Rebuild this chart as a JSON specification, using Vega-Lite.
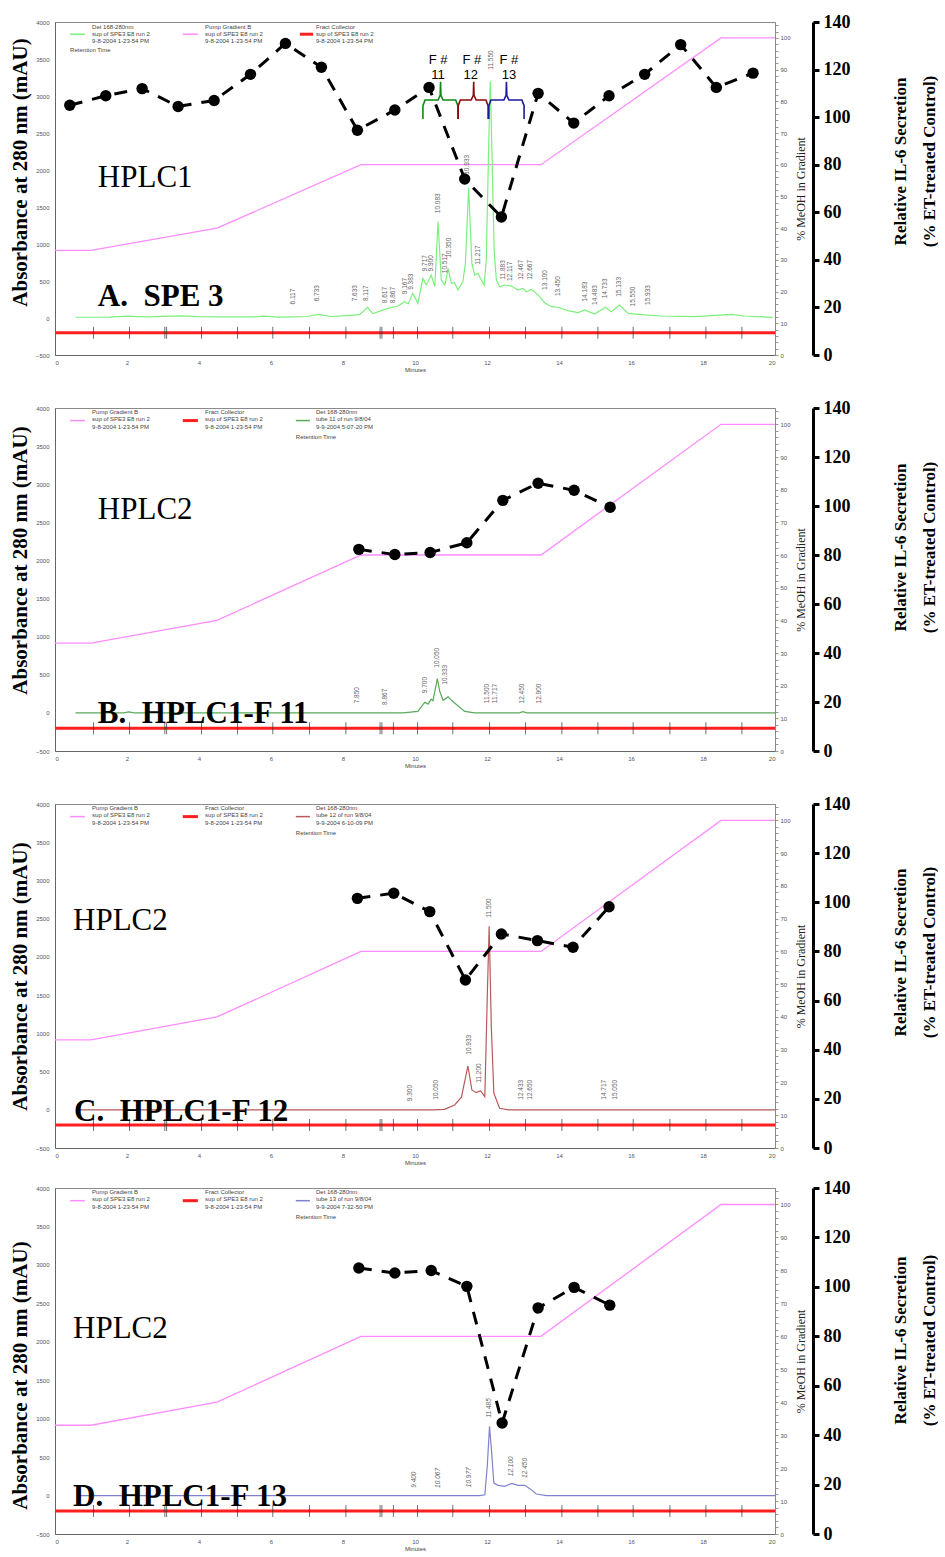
{
  "$schema": "https://vega.github.io/schema/vega-lite/v6.json",
  "background": "white",
  "padding": {"left": 8, "top": 12, "right": 0, "bottom": 0},
  "config": {
    "view": {"stroke": "#8a8a8a", "strokeWidth": 1},
    "axis": {"grid": false}
  },
  "datasets": {
    "collector": [{"t": 0, "v": -200}, {"t": 20, "v": -200}],
    "fractions": [
      {"t": 1.07, "v": -200}, {"t": 2.07, "v": -200}, {"t": 3.05, "v": -200}, {"t": 3.1, "v": -200},
      {"t": 4.07, "v": -200}, {"t": 5.07, "v": -200}, {"t": 6.05, "v": -200}, {"t": 7.07, "v": -200},
      {"t": 8.08, "v": -200}, {"t": 9.03, "v": -200}, {"t": 9.08, "v": -200}, {"t": 9.4, "v": -200},
      {"t": 10.07, "v": -200}, {"t": 11.05, "v": -200}, {"t": 12.07, "v": -200}, {"t": 13.07, "v": -200},
      {"t": 14.08, "v": -200}, {"t": 15.08, "v": -200}, {"t": 16.06, "v": -200}, {"t": 17.08, "v": -200},
      {"t": 18.08, "v": -200}, {"t": 19.08, "v": -200}
    ],
    "grad": [
      {"t": 0, "pct": 33}, {"t": 1, "pct": 33}, {"t": 4.5, "pct": 40}, {"t": 8.5, "pct": 60},
      {"t": 13.5, "pct": 60}, {"t": 18.5, "pct": 100}, {"t": 20, "pct": 100}
    ],
    "trace": [
      {"p": "A", "t": 0.57, "v": 10}, {"p": "A", "t": 1.5, "v": 12}, {"p": "A", "t": 2.0, "v": 25}, {"p": "A", "t": 2.5, "v": 15},
      {"p": "A", "t": 3.0, "v": 22}, {"p": "A", "t": 3.5, "v": 28}, {"p": "A", "t": 4.0, "v": 18}, {"p": "A", "t": 4.5, "v": 14},
      {"p": "A", "t": 5.0, "v": 15}, {"p": "A", "t": 5.5, "v": 15}, {"p": "A", "t": 5.8, "v": 25}, {"p": "A", "t": 6.2, "v": 12},
      {"p": "A", "t": 6.6, "v": 15}, {"p": "A", "t": 7.0, "v": 20}, {"p": "A", "t": 7.31, "v": 50}, {"p": "A", "t": 7.67, "v": 20},
      {"p": "A", "t": 8.2, "v": 35}, {"p": "A", "t": 8.46, "v": 45}, {"p": "A", "t": 8.68, "v": 145}, {"p": "A", "t": 8.83, "v": 60},
      {"p": "A", "t": 9.16, "v": 117}, {"p": "A", "t": 9.25, "v": 130}, {"p": "A", "t": 9.53, "v": 162}, {"p": "A", "t": 9.71, "v": 220},
      {"p": "A", "t": 9.81, "v": 190}, {"p": "A", "t": 9.94, "v": 333}, {"p": "A", "t": 10.08, "v": 198}, {"p": "A", "t": 10.22, "v": 536},
      {"p": "A", "t": 10.31, "v": 446}, {"p": "A", "t": 10.45, "v": 581}, {"p": "A", "t": 10.55, "v": 423}, {"p": "A", "t": 10.64, "v": 1301},
      {"p": "A", "t": 10.73, "v": 514}, {"p": "A", "t": 10.83, "v": 446}, {"p": "A", "t": 10.92, "v": 672}, {"p": "A", "t": 11.01, "v": 469},
      {"p": "A", "t": 11.1, "v": 477}, {"p": "A", "t": 11.19, "v": 378}, {"p": "A", "t": 11.33, "v": 491}, {"p": "A", "t": 11.4, "v": 739},
      {"p": "A", "t": 11.49, "v": 1760}, {"p": "A", "t": 11.58, "v": 739}, {"p": "A", "t": 11.66, "v": 581}, {"p": "A", "t": 11.75, "v": 604},
      {"p": "A", "t": 11.84, "v": 514}, {"p": "A", "t": 11.92, "v": 446}, {"p": "A", "t": 11.98, "v": 784}, {"p": "A", "t": 12.05, "v": 2400},
      {"p": "A", "t": 12.09, "v": 3200}, {"p": "A", "t": 12.14, "v": 2200}, {"p": "A", "t": 12.2, "v": 900}, {"p": "A", "t": 12.26, "v": 514},
      {"p": "A", "t": 12.35, "v": 423}, {"p": "A", "t": 12.49, "v": 446}, {"p": "A", "t": 12.68, "v": 432}, {"p": "A", "t": 12.86, "v": 378},
      {"p": "A", "t": 13.0, "v": 401}, {"p": "A", "t": 13.09, "v": 355}, {"p": "A", "t": 13.23, "v": 387}, {"p": "A", "t": 13.42, "v": 311},
      {"p": "A", "t": 13.6, "v": 207}, {"p": "A", "t": 13.79, "v": 153}, {"p": "A", "t": 13.97, "v": 145}, {"p": "A", "t": 14.25, "v": 99},
      {"p": "A", "t": 14.53, "v": 72}, {"p": "A", "t": 14.71, "v": 108}, {"p": "A", "t": 14.99, "v": 54}, {"p": "A", "t": 15.29, "v": 145},
      {"p": "A", "t": 15.45, "v": 86}, {"p": "A", "t": 15.68, "v": 176}, {"p": "A", "t": 15.92, "v": 63}, {"p": "A", "t": 16.38, "v": 41},
      {"p": "A", "t": 16.84, "v": 27}, {"p": "A", "t": 17.77, "v": 18}, {"p": "A", "t": 18.79, "v": 50}, {"p": "A", "t": 19.16, "v": 27},
      {"p": "A", "t": 19.94, "v": 9},

      {"p": "B", "t": 0.57, "v": 0}, {"p": "B", "t": 1.9, "v": 0}, {"p": "B", "t": 2.05, "v": 12}, {"p": "B", "t": 2.2, "v": 0},
      {"p": "B", "t": 9.67, "v": 0}, {"p": "B", "t": 10.08, "v": 20}, {"p": "B", "t": 10.27, "v": 140}, {"p": "B", "t": 10.36, "v": 115},
      {"p": "B", "t": 10.45, "v": 180}, {"p": "B", "t": 10.5, "v": 160}, {"p": "B", "t": 10.62, "v": 450}, {"p": "B", "t": 10.69, "v": 277},
      {"p": "B", "t": 10.78, "v": 165}, {"p": "B", "t": 10.92, "v": 210}, {"p": "B", "t": 11.01, "v": 165}, {"p": "B", "t": 11.38, "v": 20},
      {"p": "B", "t": 11.66, "v": 0}, {"p": "B", "t": 12.9, "v": 0}, {"p": "B", "t": 13.0, "v": 15}, {"p": "B", "t": 13.1, "v": 0},
      {"p": "B", "t": 20, "v": 0},

      {"p": "C", "t": 0.6, "v": 0}, {"p": "C", "t": 10.5, "v": 0}, {"p": "C", "t": 10.82, "v": 5}, {"p": "C", "t": 11.1, "v": 63},
      {"p": "C", "t": 11.29, "v": 164}, {"p": "C", "t": 11.47, "v": 573}, {"p": "C", "t": 11.58, "v": 259}, {"p": "C", "t": 11.7, "v": 224},
      {"p": "C", "t": 11.82, "v": 250}, {"p": "C", "t": 11.94, "v": 171}, {"p": "C", "t": 12.01, "v": 1523}, {"p": "C", "t": 12.06, "v": 2400},
      {"p": "C", "t": 12.12, "v": 1087}, {"p": "C", "t": 12.19, "v": 217}, {"p": "C", "t": 12.35, "v": 20}, {"p": "C", "t": 12.6, "v": 0},
      {"p": "C", "t": 20, "v": 0},

      {"p": "D", "t": 0.6, "v": 0}, {"p": "D", "t": 11.8, "v": 0}, {"p": "D", "t": 11.94, "v": 10}, {"p": "D", "t": 12.01, "v": 400},
      {"p": "D", "t": 12.07, "v": 900}, {"p": "D", "t": 12.12, "v": 617}, {"p": "D", "t": 12.19, "v": 162}, {"p": "D", "t": 12.31, "v": 133},
      {"p": "D", "t": 12.49, "v": 120}, {"p": "D", "t": 12.69, "v": 159}, {"p": "D", "t": 12.86, "v": 133}, {"p": "D", "t": 13.05, "v": 133},
      {"p": "D", "t": 13.19, "v": 90}, {"p": "D", "t": 13.37, "v": 20}, {"p": "D", "t": 13.65, "v": 0}, {"p": "D", "t": 20, "v": 0}
    ],
    "peaks": [
      {"p": "A", "t": 6.61, "v": 290, "s": "6.117"}, {"p": "A", "t": 7.28, "v": 335, "s": "6.733"},
      {"p": "A", "t": 8.34, "v": 335, "s": "7.633"}, {"p": "A", "t": 8.65, "v": 335, "s": "8.117"},
      {"p": "A", "t": 9.16, "v": 310, "s": "8.617"}, {"p": "A", "t": 9.39, "v": 310, "s": "8.867"},
      {"p": "A", "t": 9.71, "v": 432, "s": "9.167"}, {"p": "A", "t": 9.9, "v": 491, "s": "9.383"},
      {"p": "A", "t": 10.27, "v": 740, "s": "9.717"}, {"p": "A", "t": 10.45, "v": 740, "s": "9.900"},
      {"p": "A", "t": 10.64, "v": 1550, "s": "10.083"}, {"p": "A", "t": 10.94, "v": 950, "s": "10.350"},
      {"p": "A", "t": 10.84, "v": 740, "s": "10.517"}, {"p": "A", "t": 11.45, "v": 2070, "s": "10.933"},
      {"p": "A", "t": 11.75, "v": 850, "s": "11.217"}, {"p": "A", "t": 12.12, "v": 3486, "s": "11.550"},
      {"p": "A", "t": 12.44, "v": 650, "s": "11.883"}, {"p": "A", "t": 12.63, "v": 630, "s": "12.117"},
      {"p": "A", "t": 12.95, "v": 650, "s": "12.467"}, {"p": "A", "t": 13.19, "v": 650, "s": "12.667"},
      {"p": "A", "t": 13.6, "v": 514, "s": "13.100"}, {"p": "A", "t": 13.97, "v": 430, "s": "13.450"},
      {"p": "A", "t": 14.71, "v": 357, "s": "14.183"}, {"p": "A", "t": 14.99, "v": 311, "s": "14.483"},
      {"p": "A", "t": 15.27, "v": 400, "s": "14.733"}, {"p": "A", "t": 15.66, "v": 420, "s": "15.133"},
      {"p": "A", "t": 16.06, "v": 290, "s": "15.550"}, {"p": "A", "t": 16.47, "v": 311, "s": "15.933"},

      {"p": "B", "t": 8.4, "v": 232, "s": "7.850"}, {"p": "B", "t": 9.16, "v": 210, "s": "8.867"},
      {"p": "B", "t": 10.27, "v": 365, "s": "9.700"}, {"p": "B", "t": 10.62, "v": 723, "s": "10.050"},
      {"p": "B", "t": 10.82, "v": 500, "s": "10.333"}, {"p": "B", "t": 12.01, "v": 254, "s": "11.500"},
      {"p": "B", "t": 12.21, "v": 254, "s": "11.717"}, {"p": "B", "t": 12.97, "v": 254, "s": "12.450"},
      {"p": "B", "t": 13.44, "v": 254, "s": "12.900"},

      {"p": "C", "t": 9.85, "v": 218, "s": "9.300"}, {"p": "C", "t": 10.59, "v": 262, "s": "10.050"},
      {"p": "C", "t": 11.49, "v": 850, "s": "10.933"}, {"p": "C", "t": 11.77, "v": 480, "s": "11.200"},
      {"p": "C", "t": 12.05, "v": 2640, "s": "11.500"}, {"p": "C", "t": 12.95, "v": 262, "s": "12.433"},
      {"p": "C", "t": 13.19, "v": 262, "s": "12.650"}, {"p": "C", "t": 15.25, "v": 262, "s": "14.717"},
      {"p": "C", "t": 15.56, "v": 262, "s": "15.050"},

      {"p": "D", "t": 9.97, "v": 207, "s": "9.400"}, {"p": "D", "t": 10.64, "v": 229, "s": "10.067"},
      {"p": "D", "t": 11.49, "v": 238, "s": "10.977"}, {"p": "D", "t": 12.06, "v": 1140, "s": "11.485"},
      {"p": "D", "t": 12.68, "v": 381, "s": "12.100"}, {"p": "D", "t": 13.05, "v": 359, "s": "12.450"}
    ],
    "legend": [
      {"p": "A", "t": 1.03, "v": 3975, "s": "Det 168-280nm\nsup of SPE3 E8 run 2\n9-8-2004 1-23-54 PM"},
      {"p": "A", "t": 4.17, "v": 3975, "s": "Pump Gradient B\nsup of SPE3 E8 run 2\n9-8-2004 1-23-54 PM"},
      {"p": "A", "t": 7.25, "v": 3975, "s": "Fract Collector\nsup of SPE3 E8 run 2\n9-8-2004 1-23-54 PM"},
      {"p": "A", "t": 0.42, "v": 3665, "s": "Retention Time"},
      {"p": "B", "t": 1.03, "v": 3985, "s": "Pump Gradient B\nsup of SPE3 E8 run 2\n9-8-2004 1-23-54 PM"},
      {"p": "B", "t": 4.17, "v": 3985, "s": "Fract Collector\nsup of SPE3 E8 run 2\n9-8-2004 1-23-54 PM"},
      {"p": "B", "t": 7.25, "v": 3985, "s": "Det 168-280nm\ntube 11 of run 9/8/04\n9-9-2004 5-07-20 PM"},
      {"p": "B", "t": 6.69, "v": 3665, "s": "Retention Time"},
      {"p": "C", "t": 1.03, "v": 3985, "s": "Pump Gradient B\nsup of SPE3 E8 run 2\n9-8-2004 1-23-54 PM"},
      {"p": "C", "t": 4.17, "v": 3985, "s": "Fract Collector\nsup of SPE3 E8 run 2\n9-8-2004 1-23-54 PM"},
      {"p": "C", "t": 7.25, "v": 3985, "s": "Det 168-280nm\ntube 12 of run 9/8/04\n9-9-2004 6-10-09 PM"},
      {"p": "C", "t": 6.69, "v": 3665, "s": "Retention Time"},
      {"p": "D", "t": 1.03, "v": 3985, "s": "Pump Gradient B\nsup of SPE3 E8 run 2\n9-8-2004 1-23-54 PM"},
      {"p": "D", "t": 4.17, "v": 3985, "s": "Fract Collector\nsup of SPE3 E8 run 2\n9-8-2004 1-23-54 PM"},
      {"p": "D", "t": 7.25, "v": 3985, "s": "Det 168-280nm\ntube 13 of run 9/8/04\n9-9-2004 7-32-50 PM"},
      {"p": "D", "t": 6.69, "v": 3665, "s": "Retention Time"}
    ],
    "swatch": [
      {"p": "A", "t": 0.42, "t2": 0.83, "v": 3835, "c": "#7cf07c", "w": 1.5},
      {"p": "A", "t": 3.55, "t2": 3.97, "v": 3835, "c": "#ff8cff", "w": 1.5},
      {"p": "A", "t": 6.8, "t2": 7.17, "v": 3835, "c": "#ff1f1f", "w": 3},
      {"p": "B", "t": 0.42, "t2": 0.83, "v": 3835, "c": "#ff8cff", "w": 1.5},
      {"p": "B", "t": 3.55, "t2": 3.97, "v": 3835, "c": "#ff1f1f", "w": 3},
      {"p": "B", "t": 6.69, "t2": 7.08, "v": 3835, "c": "#5aaa5a", "w": 1.5},
      {"p": "C", "t": 0.42, "t2": 0.83, "v": 3835, "c": "#ff8cff", "w": 1.5},
      {"p": "C", "t": 3.55, "t2": 3.97, "v": 3835, "c": "#ff1f1f", "w": 3},
      {"p": "C", "t": 6.69, "t2": 7.08, "v": 3835, "c": "#b85a5a", "w": 1.5},
      {"p": "D", "t": 0.42, "t2": 0.83, "v": 3835, "c": "#ff8cff", "w": 1.5},
      {"p": "D", "t": 3.55, "t2": 3.97, "v": 3835, "c": "#ff1f1f", "w": 3},
      {"p": "D", "t": 6.69, "t2": 7.08, "v": 3835, "c": "#8080d0", "w": 1.5}
    ],
    "names": [
      {"p": "A", "t": 1.19, "v": 1774, "s": "HPLC1", "b": 0},
      {"p": "A", "t": 1.19, "v": 162, "s": "A.\u00a0 SPE 3", "b": 1},
      {"p": "B", "t": 1.19, "v": 2543, "s": "HPLC2", "b": 0},
      {"p": "B", "t": 1.19, "v": -134, "s": "B.\u00a0 HPLC1-F 11", "b": 1},
      {"p": "C", "t": 0.5, "v": 2356, "s": "HPLC2", "b": 0},
      {"p": "C", "t": 0.53, "v": -153, "s": "C.\u00a0 HPLC1-F 12", "b": 1},
      {"p": "D", "t": 0.5, "v": 2049, "s": "HPLC2", "b": 0},
      {"p": "D", "t": 0.5, "v": -135, "s": "D.\u00a0 HPLC1-F 13", "b": 1}
    ],
    "brace": [
      {"i": 0, "t": 10.22, "v": 2689, "c": "#118811"}, {"i": 1, "t": 10.22, "v": 2870, "c": "#118811"},
      {"i": 2, "t": 10.28, "v": 2946, "c": "#118811"}, {"i": 3, "t": 10.64, "v": 2946, "c": "#118811"},
      {"i": 4, "t": 10.7, "v": 3010, "c": "#118811"}, {"i": 5, "t": 10.71, "v": 3193, "c": "#118811"},
      {"i": 6, "t": 10.72, "v": 3010, "c": "#118811"}, {"i": 7, "t": 10.78, "v": 2946, "c": "#118811"},
      {"i": 8, "t": 11.13, "v": 2946, "c": "#118811"}, {"i": 9, "t": 11.19, "v": 2870, "c": "#118811"},
      {"i": 10, "t": 11.19, "v": 2689, "c": "#118811"},
      {"i": 0, "t": 11.2, "v": 2689, "c": "#8b0a0a"}, {"i": 1, "t": 11.2, "v": 2870, "c": "#8b0a0a"},
      {"i": 2, "t": 11.26, "v": 2946, "c": "#8b0a0a"}, {"i": 3, "t": 11.56, "v": 2946, "c": "#8b0a0a"},
      {"i": 4, "t": 11.62, "v": 3010, "c": "#8b0a0a"}, {"i": 5, "t": 11.63, "v": 3193, "c": "#8b0a0a"},
      {"i": 6, "t": 11.64, "v": 3010, "c": "#8b0a0a"}, {"i": 7, "t": 11.7, "v": 2946, "c": "#8b0a0a"},
      {"i": 8, "t": 11.97, "v": 2946, "c": "#8b0a0a"}, {"i": 9, "t": 12.03, "v": 2870, "c": "#8b0a0a"},
      {"i": 10, "t": 12.03, "v": 2689, "c": "#8b0a0a"},
      {"i": 0, "t": 12.05, "v": 2689, "c": "#1a1aa0"}, {"i": 1, "t": 12.05, "v": 2870, "c": "#1a1aa0"},
      {"i": 2, "t": 12.11, "v": 2946, "c": "#1a1aa0"}, {"i": 3, "t": 12.47, "v": 2946, "c": "#1a1aa0"},
      {"i": 4, "t": 12.53, "v": 3010, "c": "#1a1aa0"}, {"i": 5, "t": 12.54, "v": 3193, "c": "#1a1aa0"},
      {"i": 6, "t": 12.55, "v": 3010, "c": "#1a1aa0"}, {"i": 7, "t": 12.61, "v": 2946, "c": "#1a1aa0"},
      {"i": 8, "t": 12.97, "v": 2946, "c": "#1a1aa0"}, {"i": 9, "t": 13.03, "v": 2870, "c": "#1a1aa0"},
      {"i": 10, "t": 13.03, "v": 2689, "c": "#1a1aa0"}
    ],
    "fnum": [
      {"t": 10.64, "v": 3486, "s": "F #"}, {"t": 10.64, "v": 3284, "s": "11"},
      {"t": 11.58, "v": 3486, "s": "F #"}, {"t": 11.55, "v": 3284, "s": "12"},
      {"t": 12.61, "v": 3486, "s": "F #"}, {"t": 12.61, "v": 3284, "s": "13"}
    ],
    "il6": [
      {"p": "A", "t": 0.41, "r": 105}, {"p": "A", "t": 1.41, "r": 109}, {"p": "A", "t": 2.42, "r": 112},
      {"p": "A", "t": 3.42, "r": 104.5}, {"p": "A", "t": 4.42, "r": 107}, {"p": "A", "t": 5.43, "r": 118},
      {"p": "A", "t": 6.4, "r": 131}, {"p": "A", "t": 7.4, "r": 121}, {"p": "A", "t": 8.4, "r": 94.5},
      {"p": "A", "t": 9.44, "r": 103}, {"p": "A", "t": 10.39, "r": 112.5}, {"p": "A", "t": 11.38, "r": 74},
      {"p": "A", "t": 12.4, "r": 58}, {"p": "A", "t": 13.42, "r": 110}, {"p": "A", "t": 14.41, "r": 97.5},
      {"p": "A", "t": 15.39, "r": 109}, {"p": "A", "t": 16.38, "r": 118}, {"p": "A", "t": 17.38, "r": 130.5},
      {"p": "A", "t": 18.37, "r": 112.5}, {"p": "A", "t": 19.39, "r": 118.5},
      {"p": "B", "t": 8.44, "r": 82.3}, {"p": "B", "t": 9.44, "r": 80.2}, {"p": "B", "t": 10.42, "r": 81},
      {"p": "B", "t": 11.44, "r": 85}, {"p": "B", "t": 12.44, "r": 102.3}, {"p": "B", "t": 13.42, "r": 109.3},
      {"p": "B", "t": 14.42, "r": 106.4}, {"p": "B", "t": 15.42, "r": 99.5},
      {"p": "C", "t": 8.4, "r": 101.6}, {"p": "C", "t": 9.41, "r": 103.7}, {"p": "C", "t": 10.41, "r": 96.2},
      {"p": "C", "t": 11.4, "r": 68.4}, {"p": "C", "t": 12.4, "r": 87.1}, {"p": "C", "t": 13.4, "r": 84.4},
      {"p": "C", "t": 14.39, "r": 81.7}, {"p": "C", "t": 15.39, "r": 98.2},
      {"p": "D", "t": 8.44, "r": 107.6}, {"p": "D", "t": 9.44, "r": 105.6}, {"p": "D", "t": 10.45, "r": 106.6},
      {"p": "D", "t": 11.44, "r": 100.2}, {"p": "D", "t": 12.42, "r": 44.9}, {"p": "D", "t": 13.42, "r": 91.5},
      {"p": "D", "t": 14.42, "r": 99.8}, {"p": "D", "t": 15.41, "r": 92.6}
    ]
  },
  "spacing": 12,
  "vconcat": [
    {
      "spacing": 25,
      "vconcat": [
        {
          "width": 720, "height": 333,
          "resolve": {"scale": {"x": "independent", "y": "independent"}, "axis": {"x": "independent", "y": "independent"}},
          "layer": [
            {
              "data": {"name": "collector"},
              "mark": {"type": "line", "color": "#ff1f1f", "strokeWidth": 3},
              "encoding": {
                "x": {"field": "t", "type": "quantitative", "scale": {"domain": [0, 20], "nice": false},
                  "axis": {"values": [0, 2, 4, 6, 8, 10, 12, 14, 16, 18, 20], "title": "Minutes", "titleFont": "Liberation Sans", "titleFontSize": 6, "titleFontWeight": "normal", "titleColor": "#444", "titlePadding": 1, "labelFont": "Liberation Sans", "labelFontSize": 6, "labelColor": "#555", "ticks": false, "labelPadding": 4, "domainColor": "#666"}},
                "y": {"field": "v", "type": "quantitative", "scale": {"domain": [-500, 4000], "nice": false},
                  "axis": {"orient": "left", "format": "d", "values": [-500, 0, 500, 1000, 1500, 2000, 2500, 3000, 3500, 4000], "title": "Absorbance at 280 nm (mAU)", "titleFont": "Liberation Serif", "titleFontSize": 21, "titleFontWeight": "bold", "titleColor": "black", "titlePadding": 5, "titleY": 150, "labelFont": "Liberation Sans", "labelFontSize": 6, "labelColor": "#555", "ticks": false, "labelPadding": 6, "domainColor": "#666"}}
              }
            },
            {
              "data": {"name": "fractions"},
              "mark": {"type": "tick", "orient": "vertical", "size": 12, "thickness": 1, "color": "#333"},
              "encoding": {
                "x": {"field": "t", "type": "quantitative", "scale": {"domain": [0, 20], "nice": false}, "axis": null},
                "y": {"field": "v", "type": "quantitative", "scale": {"domain": [-500, 4000], "nice": false}, "axis": null}
              }
            },
            {
              "data": {"name": "grad"},
              "mark": {"type": "line", "color": "#ff8cff", "strokeWidth": 1.3},
              "encoding": {
                "x": {"field": "t", "type": "quantitative", "scale": {"domain": [0, 20], "nice": false}, "axis": null},
                "y": {"field": "pct", "type": "quantitative", "scale": {"domain": [0, 105], "nice": false},
                  "axis": {"orient": "right", "values": [0, 2, 4, 6, 8, 10, 12, 14, 16, 18, 20, 22, 24, 26, 28, 30, 32, 34, 36, 38, 40, 42, 44, 46, 48, 50, 52, 54, 56, 58, 60, 62, 64, 66, 68, 70, 72, 74, 76, 78, 80, 82, 84, 86, 88, 90, 92, 94, 96, 98, 100, 102, 104], "labelExpr": "datum.value % 10 === 0 ? datum.label : ''", "labelOverlap": false, "title": "% MeOH in Gradient", "titleFont": "Liberation Serif", "titleFontSize": 12, "titleFontWeight": "normal", "titleColor": "#222", "titleAngle": 270, "titleBaseline": "top", "titlePadding": 5, "labelFont": "Liberation Sans", "labelFontSize": 6, "labelColor": "#555", "tickSize": 3, "tickColor": "#999", "domainColor": "#888", "labelPadding": 2}}
              }
            },
            {
              "data": {"name": "trace"},
              "transform": [{"filter": "datum.p === 'A'"}],
              "mark": {"type": "line", "color": "#7cf07c", "strokeWidth": 1.2},
              "encoding": {
                "x": {"field": "t", "type": "quantitative", "scale": {"domain": [0, 20], "nice": false}, "axis": null},
                "y": {"field": "v", "type": "quantitative", "scale": {"domain": [-500, 4000], "nice": false}, "axis": null}
              }
            },
            {
              "data": {"name": "peaks"},
              "transform": [{"filter": "datum.p === 'A'"}],
              "mark": {"type": "text", "angle": 270, "fontSize": 6.5, "font": "Liberation Sans", "color": "#666"},
              "encoding": {
                "x": {"field": "t", "type": "quantitative", "scale": {"domain": [0, 20], "nice": false}, "axis": null},
                "y": {"field": "v", "type": "quantitative", "scale": {"domain": [-500, 4000], "nice": false}, "axis": null},
                "text": {"field": "s"}
              }
            },
            {
              "data": {"name": "legend"},
              "transform": [{"filter": "datum.p === 'A'"}],
              "mark": {"type": "text", "align": "left", "baseline": "top", "fontSize": 6, "font": "Liberation Sans", "color": "#444", "lineBreak": "\n", "lineHeight": 7.3},
              "encoding": {
                "x": {"field": "t", "type": "quantitative", "scale": {"domain": [0, 20], "nice": false}, "axis": null},
                "y": {"field": "v", "type": "quantitative", "scale": {"domain": [-500, 4000], "nice": false}, "axis": null},
                "text": {"field": "s"}
              }
            },
            {
              "data": {"name": "swatch"},
              "transform": [{"filter": "datum.p === 'A'"}],
              "mark": {"type": "rule"},
              "encoding": {
                "x": {"field": "t", "type": "quantitative", "scale": {"domain": [0, 20], "nice": false}, "axis": null},
                "x2": {"field": "t2"},
                "y": {"field": "v", "type": "quantitative", "scale": {"domain": [-500, 4000], "nice": false}, "axis": null},
                "color": {"field": "c", "type": "nominal", "scale": null},
                "strokeWidth": {"field": "w", "type": "quantitative", "scale": null}
              }
            },
            {
              "data": {"name": "names"},
              "transform": [{"filter": "datum.p === 'A' && datum.b === 0"}],
              "mark": {"type": "text", "align": "left", "baseline": "alphabetic", "font": "Liberation Serif", "fontSize": 31, "color": "black"},
              "encoding": {
                "x": {"field": "t", "type": "quantitative", "scale": {"domain": [0, 20], "nice": false}, "axis": null},
                "y": {"field": "v", "type": "quantitative", "scale": {"domain": [-500, 4000], "nice": false}, "axis": null},
                "text": {"field": "s"}
              }
            },
            {
              "data": {"name": "names"},
              "transform": [{"filter": "datum.p === 'A' && datum.b === 1"}],
              "mark": {"type": "text", "align": "left", "baseline": "alphabetic", "font": "Liberation Serif", "fontSize": 31, "fontWeight": "bold", "color": "black"},
              "encoding": {
                "x": {"field": "t", "type": "quantitative", "scale": {"domain": [0, 20], "nice": false}, "axis": null},
                "y": {"field": "v", "type": "quantitative", "scale": {"domain": [-500, 4000], "nice": false}, "axis": null},
                "text": {"field": "s"}
              }
            },
            {
              "data": {"name": "brace"},
              "mark": {"type": "line", "strokeWidth": 1.6},
              "encoding": {
                "x": {"field": "t", "type": "quantitative", "scale": {"domain": [0, 20], "nice": false}, "axis": null},
                "y": {"field": "v", "type": "quantitative", "scale": {"domain": [-500, 4000], "nice": false}, "axis": null},
                "color": {"field": "c", "type": "nominal", "scale": null},
                "order": {"field": "i", "type": "quantitative"}
              }
            },
            {
              "data": {"name": "fnum"},
              "mark": {"type": "text", "fontSize": 13, "font": "Liberation Sans", "color": "black"},
              "encoding": {
                "x": {"field": "t", "type": "quantitative", "scale": {"domain": [0, 20], "nice": false}, "axis": null},
                "y": {"field": "v", "type": "quantitative", "scale": {"domain": [-500, 4000], "nice": false}, "axis": null},
                "text": {"field": "s"}
              }
            },
            {
              "data": {"name": "il6"},
              "transform": [{"filter": "datum.p === 'A'"}],
              "mark": {"type": "line", "color": "black", "strokeWidth": 3, "strokeDash": [13, 10], "point": {"filled": true, "size": 130, "color": "black", "opacity": 1}},
              "encoding": {
                "x": {"field": "t", "type": "quantitative", "scale": {"domain": [0, 20], "nice": false}, "axis": null},
                "y": {"field": "r", "type": "quantitative", "scale": {"domain": [0, 140], "nice": false},
                  "axis": {"orient": "right", "offset": 38, "values": [0, 20, 40, 60, 80, 100, 120, 140], "title": ["Relative IL-6 Secretion", "(% ET-treated Control)"], "titleFont": "Liberation Serif", "titleFontSize": 17, "titleFontWeight": "bold", "titleColor": "black", "titleAngle": 270, "titleBaseline": "top", "titleLineHeight": 29, "titlePadding": 13, "titleY": 139, "labelFont": "Liberation Serif", "labelFontSize": 18, "labelFontWeight": "bold", "labelColor": "black", "tickColor": "black", "tickWidth": 3, "tickSize": 6, "domainColor": "black", "domainWidth": 3, "labelPadding": 4}}
              }
            }
          ]
        },
        {
          "width": 720, "height": 343,
          "resolve": {"scale": {"x": "independent", "y": "independent"}, "axis": {"x": "independent", "y": "independent"}},
          "layer": [
            {
              "data": {"name": "collector"},
              "mark": {"type": "line", "color": "#ff1f1f", "strokeWidth": 3},
              "encoding": {
                "x": {"field": "t", "type": "quantitative", "scale": {"domain": [0, 20], "nice": false},
                  "axis": {"values": [0, 2, 4, 6, 8, 10, 12, 14, 16, 18, 20], "title": "Minutes", "titleFont": "Liberation Sans", "titleFontSize": 6, "titleFontWeight": "normal", "titleColor": "#444", "titlePadding": 1, "labelFont": "Liberation Sans", "labelFontSize": 6, "labelColor": "#555", "ticks": false, "labelPadding": 4, "domainColor": "#666"}},
                "y": {"field": "v", "type": "quantitative", "scale": {"domain": [-500, 4000], "nice": false},
                  "axis": {"orient": "left", "format": "d", "values": [-500, 0, 500, 1000, 1500, 2000, 2500, 3000, 3500, 4000], "title": "Absorbance at 280 nm (mAU)", "titleFont": "Liberation Serif", "titleFontSize": 21, "titleFontWeight": "bold", "titleColor": "black", "titlePadding": 5, "titleY": 152, "labelFont": "Liberation Sans", "labelFontSize": 6, "labelColor": "#555", "ticks": false, "labelPadding": 6, "domainColor": "#666"}}
              }
            },
            {
              "data": {"name": "fractions"},
              "mark": {"type": "tick", "orient": "vertical", "size": 12, "thickness": 1, "color": "#333"},
              "encoding": {
                "x": {"field": "t", "type": "quantitative", "scale": {"domain": [0, 20], "nice": false}, "axis": null},
                "y": {"field": "v", "type": "quantitative", "scale": {"domain": [-500, 4000], "nice": false}, "axis": null}
              }
            },
            {
              "data": {"name": "grad"},
              "mark": {"type": "line", "color": "#ff8cff", "strokeWidth": 1.3},
              "encoding": {
                "x": {"field": "t", "type": "quantitative", "scale": {"domain": [0, 20], "nice": false}, "axis": null},
                "y": {"field": "pct", "type": "quantitative", "scale": {"domain": [0, 105], "nice": false},
                  "axis": {"orient": "right", "values": [0, 2, 4, 6, 8, 10, 12, 14, 16, 18, 20, 22, 24, 26, 28, 30, 32, 34, 36, 38, 40, 42, 44, 46, 48, 50, 52, 54, 56, 58, 60, 62, 64, 66, 68, 70, 72, 74, 76, 78, 80, 82, 84, 86, 88, 90, 92, 94, 96, 98, 100, 102, 104], "labelExpr": "datum.value % 10 === 0 ? datum.label : ''", "labelOverlap": false, "title": "% MeOH in Gradient", "titleFont": "Liberation Serif", "titleFontSize": 12, "titleFontWeight": "normal", "titleColor": "#222", "titleAngle": 270, "titleBaseline": "top", "titlePadding": 5, "labelFont": "Liberation Sans", "labelFontSize": 6, "labelColor": "#555", "tickSize": 3, "tickColor": "#999", "domainColor": "#888", "labelPadding": 2}}
              }
            },
            {
              "data": {"name": "trace"},
              "transform": [{"filter": "datum.p === 'B'"}],
              "mark": {"type": "line", "color": "#5aaa5a", "strokeWidth": 1.2},
              "encoding": {
                "x": {"field": "t", "type": "quantitative", "scale": {"domain": [0, 20], "nice": false}, "axis": null},
                "y": {"field": "v", "type": "quantitative", "scale": {"domain": [-500, 4000], "nice": false}, "axis": null}
              }
            },
            {
              "data": {"name": "peaks"},
              "transform": [{"filter": "datum.p === 'B'"}],
              "mark": {"type": "text", "angle": 270, "fontSize": 6.5, "font": "Liberation Sans", "color": "#666"},
              "encoding": {
                "x": {"field": "t", "type": "quantitative", "scale": {"domain": [0, 20], "nice": false}, "axis": null},
                "y": {"field": "v", "type": "quantitative", "scale": {"domain": [-500, 4000], "nice": false}, "axis": null},
                "text": {"field": "s"}
              }
            },
            {
              "data": {"name": "legend"},
              "transform": [{"filter": "datum.p === 'B'"}],
              "mark": {"type": "text", "align": "left", "baseline": "top", "fontSize": 6, "font": "Liberation Sans", "color": "#444", "lineBreak": "\n", "lineHeight": 7.3},
              "encoding": {
                "x": {"field": "t", "type": "quantitative", "scale": {"domain": [0, 20], "nice": false}, "axis": null},
                "y": {"field": "v", "type": "quantitative", "scale": {"domain": [-500, 4000], "nice": false}, "axis": null},
                "text": {"field": "s"}
              }
            },
            {
              "data": {"name": "swatch"},
              "transform": [{"filter": "datum.p === 'B'"}],
              "mark": {"type": "rule"},
              "encoding": {
                "x": {"field": "t", "type": "quantitative", "scale": {"domain": [0, 20], "nice": false}, "axis": null},
                "x2": {"field": "t2"},
                "y": {"field": "v", "type": "quantitative", "scale": {"domain": [-500, 4000], "nice": false}, "axis": null},
                "color": {"field": "c", "type": "nominal", "scale": null},
                "strokeWidth": {"field": "w", "type": "quantitative", "scale": null}
              }
            },
            {
              "data": {"name": "names"},
              "transform": [{"filter": "datum.p === 'B' && datum.b === 0"}],
              "mark": {"type": "text", "align": "left", "baseline": "alphabetic", "font": "Liberation Serif", "fontSize": 31, "color": "black"},
              "encoding": {
                "x": {"field": "t", "type": "quantitative", "scale": {"domain": [0, 20], "nice": false}, "axis": null},
                "y": {"field": "v", "type": "quantitative", "scale": {"domain": [-500, 4000], "nice": false}, "axis": null},
                "text": {"field": "s"}
              }
            },
            {
              "data": {"name": "names"},
              "transform": [{"filter": "datum.p === 'B' && datum.b === 1"}],
              "mark": {"type": "text", "align": "left", "baseline": "alphabetic", "font": "Liberation Serif", "fontSize": 31, "fontWeight": "bold", "color": "black"},
              "encoding": {
                "x": {"field": "t", "type": "quantitative", "scale": {"domain": [0, 20], "nice": false}, "axis": null},
                "y": {"field": "v", "type": "quantitative", "scale": {"domain": [-500, 4000], "nice": false}, "axis": null},
                "text": {"field": "s"}
              }
            },
            {
              "data": {"name": "il6"},
              "transform": [{"filter": "datum.p === 'B'"}],
              "mark": {"type": "line", "color": "black", "strokeWidth": 3, "strokeDash": [13, 10], "point": {"filled": true, "size": 130, "color": "black", "opacity": 1}},
              "encoding": {
                "x": {"field": "t", "type": "quantitative", "scale": {"domain": [0, 20], "nice": false}, "axis": null},
                "y": {"field": "r", "type": "quantitative", "scale": {"domain": [0, 140], "nice": false},
                  "axis": {"orient": "right", "offset": 38, "values": [0, 20, 40, 60, 80, 100, 120, 140], "title": ["Relative IL-6 Secretion", "(% ET-treated Control)"], "titleFont": "Liberation Serif", "titleFontSize": 17, "titleFontWeight": "bold", "titleColor": "black", "titleAngle": 270, "titleBaseline": "top", "titleLineHeight": 29, "titlePadding": 13, "titleY": 139, "labelFont": "Liberation Serif", "labelFontSize": 18, "labelFontWeight": "bold", "labelColor": "black", "tickColor": "black", "tickWidth": 3, "tickSize": 6, "domainColor": "black", "domainWidth": 3, "labelPadding": 4}}
              }
            }
          ]
        },
        {
          "width": 720, "height": 344,
          "resolve": {"scale": {"x": "independent", "y": "independent"}, "axis": {"x": "independent", "y": "independent"}},
          "layer": [
            {
              "data": {"name": "collector"},
              "mark": {"type": "line", "color": "#ff1f1f", "strokeWidth": 3},
              "encoding": {
                "x": {"field": "t", "type": "quantitative", "scale": {"domain": [0, 20], "nice": false},
                  "axis": {"values": [0, 2, 4, 6, 8, 10, 12, 14, 16, 18, 20], "title": "Minutes", "titleFont": "Liberation Sans", "titleFontSize": 6, "titleFontWeight": "normal", "titleColor": "#444", "titlePadding": 1, "labelFont": "Liberation Sans", "labelFontSize": 6, "labelColor": "#555", "ticks": false, "labelPadding": 4, "domainColor": "#666"}},
                "y": {"field": "v", "type": "quantitative", "scale": {"domain": [-500, 4000], "nice": false},
                  "axis": {"orient": "left", "format": "d", "values": [-500, 0, 500, 1000, 1500, 2000, 2500, 3000, 3500, 4000], "title": "Absorbance at 280 nm (mAU)", "titleFont": "Liberation Serif", "titleFontSize": 21, "titleFontWeight": "bold", "titleColor": "black", "titlePadding": 5, "titleY": 172, "labelFont": "Liberation Sans", "labelFontSize": 6, "labelColor": "#555", "ticks": false, "labelPadding": 6, "domainColor": "#666"}}
              }
            },
            {
              "data": {"name": "fractions"},
              "mark": {"type": "tick", "orient": "vertical", "size": 12, "thickness": 1, "color": "#333"},
              "encoding": {
                "x": {"field": "t", "type": "quantitative", "scale": {"domain": [0, 20], "nice": false}, "axis": null},
                "y": {"field": "v", "type": "quantitative", "scale": {"domain": [-500, 4000], "nice": false}, "axis": null}
              }
            },
            {
              "data": {"name": "grad"},
              "mark": {"type": "line", "color": "#ff8cff", "strokeWidth": 1.3},
              "encoding": {
                "x": {"field": "t", "type": "quantitative", "scale": {"domain": [0, 20], "nice": false}, "axis": null},
                "y": {"field": "pct", "type": "quantitative", "scale": {"domain": [0, 105], "nice": false},
                  "axis": {"orient": "right", "values": [0, 2, 4, 6, 8, 10, 12, 14, 16, 18, 20, 22, 24, 26, 28, 30, 32, 34, 36, 38, 40, 42, 44, 46, 48, 50, 52, 54, 56, 58, 60, 62, 64, 66, 68, 70, 72, 74, 76, 78, 80, 82, 84, 86, 88, 90, 92, 94, 96, 98, 100, 102, 104], "labelExpr": "datum.value % 10 === 0 ? datum.label : ''", "labelOverlap": false, "title": "% MeOH in Gradient", "titleFont": "Liberation Serif", "titleFontSize": 12, "titleFontWeight": "normal", "titleColor": "#222", "titleAngle": 270, "titleBaseline": "top", "titlePadding": 5, "labelFont": "Liberation Sans", "labelFontSize": 6, "labelColor": "#555", "tickSize": 3, "tickColor": "#999", "domainColor": "#888", "labelPadding": 2}}
              }
            },
            {
              "data": {"name": "trace"},
              "transform": [{"filter": "datum.p === 'C'"}],
              "mark": {"type": "line", "color": "#b85a5a", "strokeWidth": 1.2},
              "encoding": {
                "x": {"field": "t", "type": "quantitative", "scale": {"domain": [0, 20], "nice": false}, "axis": null},
                "y": {"field": "v", "type": "quantitative", "scale": {"domain": [-500, 4000], "nice": false}, "axis": null}
              }
            },
            {
              "data": {"name": "peaks"},
              "transform": [{"filter": "datum.p === 'C'"}],
              "mark": {"type": "text", "angle": 270, "fontSize": 6.5, "font": "Liberation Sans", "color": "#666"},
              "encoding": {
                "x": {"field": "t", "type": "quantitative", "scale": {"domain": [0, 20], "nice": false}, "axis": null},
                "y": {"field": "v", "type": "quantitative", "scale": {"domain": [-500, 4000], "nice": false}, "axis": null},
                "text": {"field": "s"}
              }
            },
            {
              "data": {"name": "legend"},
              "transform": [{"filter": "datum.p === 'C'"}],
              "mark": {"type": "text", "align": "left", "baseline": "top", "fontSize": 6, "font": "Liberation Sans", "color": "#444", "lineBreak": "\n", "lineHeight": 7.3},
              "encoding": {
                "x": {"field": "t", "type": "quantitative", "scale": {"domain": [0, 20], "nice": false}, "axis": null},
                "y": {"field": "v", "type": "quantitative", "scale": {"domain": [-500, 4000], "nice": false}, "axis": null},
                "text": {"field": "s"}
              }
            },
            {
              "data": {"name": "swatch"},
              "transform": [{"filter": "datum.p === 'C'"}],
              "mark": {"type": "rule"},
              "encoding": {
                "x": {"field": "t", "type": "quantitative", "scale": {"domain": [0, 20], "nice": false}, "axis": null},
                "x2": {"field": "t2"},
                "y": {"field": "v", "type": "quantitative", "scale": {"domain": [-500, 4000], "nice": false}, "axis": null},
                "color": {"field": "c", "type": "nominal", "scale": null},
                "strokeWidth": {"field": "w", "type": "quantitative", "scale": null}
              }
            },
            {
              "data": {"name": "names"},
              "transform": [{"filter": "datum.p === 'C' && datum.b === 0"}],
              "mark": {"type": "text", "align": "left", "baseline": "alphabetic", "font": "Liberation Serif", "fontSize": 31, "color": "black"},
              "encoding": {
                "x": {"field": "t", "type": "quantitative", "scale": {"domain": [0, 20], "nice": false}, "axis": null},
                "y": {"field": "v", "type": "quantitative", "scale": {"domain": [-500, 4000], "nice": false}, "axis": null},
                "text": {"field": "s"}
              }
            },
            {
              "data": {"name": "names"},
              "transform": [{"filter": "datum.p === 'C' && datum.b === 1"}],
              "mark": {"type": "text", "align": "left", "baseline": "alphabetic", "font": "Liberation Serif", "fontSize": 31, "fontWeight": "bold", "color": "black"},
              "encoding": {
                "x": {"field": "t", "type": "quantitative", "scale": {"domain": [0, 20], "nice": false}, "axis": null},
                "y": {"field": "v", "type": "quantitative", "scale": {"domain": [-500, 4000], "nice": false}, "axis": null},
                "text": {"field": "s"}
              }
            },
            {
              "data": {"name": "il6"},
              "transform": [{"filter": "datum.p === 'C'"}],
              "mark": {"type": "line", "color": "black", "strokeWidth": 3, "strokeDash": [13, 10], "point": {"filled": true, "size": 130, "color": "black", "opacity": 1}},
              "encoding": {
                "x": {"field": "t", "type": "quantitative", "scale": {"domain": [0, 20], "nice": false}, "axis": null},
                "y": {"field": "r", "type": "quantitative", "scale": {"domain": [0, 140], "nice": false},
                  "axis": {"orient": "right", "offset": 38, "values": [0, 20, 40, 60, 80, 100, 120, 140], "title": ["Relative IL-6 Secretion", "(% ET-treated Control)"], "titleFont": "Liberation Serif", "titleFontSize": 17, "titleFontWeight": "bold", "titleColor": "black", "titleAngle": 270, "titleBaseline": "top", "titleLineHeight": 29, "titlePadding": 13, "titleY": 148, "labelFont": "Liberation Serif", "labelFontSize": 18, "labelFontWeight": "bold", "labelColor": "black", "tickColor": "black", "tickWidth": 3, "tickSize": 6, "domainColor": "black", "domainWidth": 3, "labelPadding": 4}}
              }
            }
          ]
        }
      ]
    },
    {
      "width": 720, "height": 346,
      "resolve": {"scale": {"x": "independent", "y": "independent"}, "axis": {"x": "independent", "y": "independent"}},
      "layer": [
        {
          "data": {"name": "collector"},
          "mark": {"type": "line", "color": "#ff1f1f", "strokeWidth": 3},
          "encoding": {
            "x": {"field": "t", "type": "quantitative", "scale": {"domain": [0, 20], "nice": false},
              "axis": {"values": [0, 2, 4, 6, 8, 10, 12, 14, 16, 18, 20], "title": "Minutes", "titleFont": "Liberation Sans", "titleFontSize": 6, "titleFontWeight": "normal", "titleColor": "#444", "titlePadding": 1, "labelFont": "Liberation Sans", "labelFontSize": 6, "labelColor": "#555", "ticks": false, "labelPadding": 4, "domainColor": "#666"}},
            "y": {"field": "v", "type": "quantitative", "scale": {"domain": [-500, 4000], "nice": false},
              "axis": {"orient": "left", "format": "d", "values": [-500, 0, 500, 1000, 1500, 2000, 2500, 3000, 3500, 4000], "title": "Absorbance at 280 nm (mAU)", "titleFont": "Liberation Serif", "titleFontSize": 21, "titleFontWeight": "bold", "titleColor": "black", "titlePadding": 5, "titleY": 187, "labelFont": "Liberation Sans", "labelFontSize": 6, "labelColor": "#555", "ticks": false, "labelPadding": 6, "domainColor": "#666"}}
          }
        },
        {
          "data": {"name": "fractions"},
          "mark": {"type": "tick", "orient": "vertical", "size": 12, "thickness": 1, "color": "#333"},
          "encoding": {
            "x": {"field": "t", "type": "quantitative", "scale": {"domain": [0, 20], "nice": false}, "axis": null},
            "y": {"field": "v", "type": "quantitative", "scale": {"domain": [-500, 4000], "nice": false}, "axis": null}
          }
        },
        {
          "data": {"name": "grad"},
          "mark": {"type": "line", "color": "#ff8cff", "strokeWidth": 1.3},
          "encoding": {
            "x": {"field": "t", "type": "quantitative", "scale": {"domain": [0, 20], "nice": false}, "axis": null},
            "y": {"field": "pct", "type": "quantitative", "scale": {"domain": [0, 105], "nice": false},
              "axis": {"orient": "right", "values": [0, 2, 4, 6, 8, 10, 12, 14, 16, 18, 20, 22, 24, 26, 28, 30, 32, 34, 36, 38, 40, 42, 44, 46, 48, 50, 52, 54, 56, 58, 60, 62, 64, 66, 68, 70, 72, 74, 76, 78, 80, 82, 84, 86, 88, 90, 92, 94, 96, 98, 100, 102, 104], "labelExpr": "datum.value % 10 === 0 ? datum.label : ''", "labelOverlap": false, "title": "% MeOH in Gradient", "titleFont": "Liberation Serif", "titleFontSize": 12, "titleFontWeight": "normal", "titleColor": "#222", "titleAngle": 270, "titleBaseline": "top", "titlePadding": 5, "labelFont": "Liberation Sans", "labelFontSize": 6, "labelColor": "#555", "tickSize": 3, "tickColor": "#999", "domainColor": "#888", "labelPadding": 2}}
          }
        },
        {
          "data": {"name": "trace"},
          "transform": [{"filter": "datum.p === 'D'"}],
          "mark": {"type": "line", "color": "#8080d0", "strokeWidth": 1.2},
          "encoding": {
            "x": {"field": "t", "type": "quantitative", "scale": {"domain": [0, 20], "nice": false}, "axis": null},
            "y": {"field": "v", "type": "quantitative", "scale": {"domain": [-500, 4000], "nice": false}, "axis": null}
          }
        },
        {
          "data": {"name": "peaks"},
          "transform": [{"filter": "datum.p === 'D'"}],
          "mark": {"type": "text", "angle": 270, "fontSize": 6.5, "font": "Liberation Sans", "fontStyle": "italic", "color": "#666"},
          "encoding": {
            "x": {"field": "t", "type": "quantitative", "scale": {"domain": [0, 20], "nice": false}, "axis": null},
            "y": {"field": "v", "type": "quantitative", "scale": {"domain": [-500, 4000], "nice": false}, "axis": null},
            "text": {"field": "s"}
          }
        },
        {
          "data": {"name": "legend"},
          "transform": [{"filter": "datum.p === 'D'"}],
          "mark": {"type": "text", "align": "left", "baseline": "top", "fontSize": 6, "font": "Liberation Sans", "color": "#444", "lineBreak": "\n", "lineHeight": 7.3},
          "encoding": {
            "x": {"field": "t", "type": "quantitative", "scale": {"domain": [0, 20], "nice": false}, "axis": null},
            "y": {"field": "v", "type": "quantitative", "scale": {"domain": [-500, 4000], "nice": false}, "axis": null},
            "text": {"field": "s"}
          }
        },
        {
          "data": {"name": "swatch"},
          "transform": [{"filter": "datum.p === 'D'"}],
          "mark": {"type": "rule"},
          "encoding": {
            "x": {"field": "t", "type": "quantitative", "scale": {"domain": [0, 20], "nice": false}, "axis": null},
            "x2": {"field": "t2"},
            "y": {"field": "v", "type": "quantitative", "scale": {"domain": [-500, 4000], "nice": false}, "axis": null},
            "color": {"field": "c", "type": "nominal", "scale": null},
            "strokeWidth": {"field": "w", "type": "quantitative", "scale": null}
          }
        },
        {
          "data": {"name": "names"},
          "transform": [{"filter": "datum.p === 'D' && datum.b === 0"}],
          "mark": {"type": "text", "align": "left", "baseline": "alphabetic", "font": "Liberation Serif", "fontSize": 31, "color": "black"},
          "encoding": {
            "x": {"field": "t", "type": "quantitative", "scale": {"domain": [0, 20], "nice": false}, "axis": null},
            "y": {"field": "v", "type": "quantitative", "scale": {"domain": [-500, 4000], "nice": false}, "axis": null},
            "text": {"field": "s"}
          }
        },
        {
          "data": {"name": "names"},
          "transform": [{"filter": "datum.p === 'D' && datum.b === 1"}],
          "mark": {"type": "text", "align": "left", "baseline": "alphabetic", "font": "Liberation Serif", "fontSize": 31, "fontWeight": "bold", "color": "black"},
          "encoding": {
            "x": {"field": "t", "type": "quantitative", "scale": {"domain": [0, 20], "nice": false}, "axis": null},
            "y": {"field": "v", "type": "quantitative", "scale": {"domain": [-500, 4000], "nice": false}, "axis": null},
            "text": {"field": "s"}
          }
        },
        {
          "data": {"name": "il6"},
          "transform": [{"filter": "datum.p === 'D'"}],
          "mark": {"type": "line", "color": "black", "strokeWidth": 3, "strokeDash": [13, 10], "point": {"filled": true, "size": 130, "color": "black", "opacity": 1}},
          "encoding": {
            "x": {"field": "t", "type": "quantitative", "scale": {"domain": [0, 20], "nice": false}, "axis": null},
            "y": {"field": "r", "type": "quantitative", "scale": {"domain": [0, 140], "nice": false},
              "axis": {"orient": "right", "offset": 38, "values": [0, 20, 40, 60, 80, 100, 120, 140], "title": ["Relative IL-6 Secretion", "(% ET-treated Control)"], "titleFont": "Liberation Serif", "titleFontSize": 17, "titleFontWeight": "bold", "titleColor": "black", "titleAngle": 270, "titleBaseline": "top", "titleLineHeight": 29, "titlePadding": 13, "titleY": 152, "labelFont": "Liberation Serif", "labelFontSize": 18, "labelFontWeight": "bold", "labelColor": "black", "tickColor": "black", "tickWidth": 3, "tickSize": 6, "domainColor": "black", "domainWidth": 3, "labelPadding": 4}}
          }
        }
      ]
    }
  ]
}
